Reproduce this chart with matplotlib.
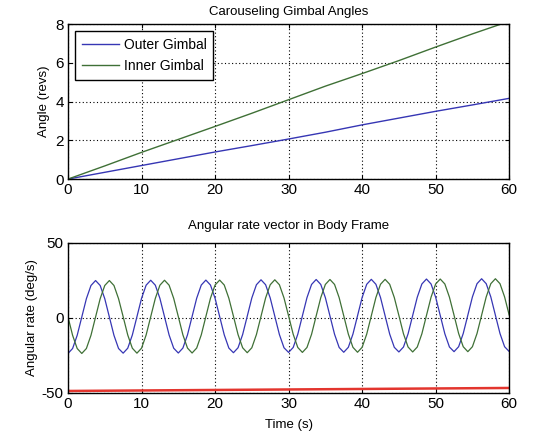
import numpy as np
import matplotlib
matplotlib.use("Agg")
import matplotlib.pyplot as plt

plt.rcParams['font.family'] = ['Liberation Sans', 'DejaVu Sans']
plt.rcParams['axes.unicode_minus'] = False

# ---- top panel data ----
t_top = [0, 5, 10, 15, 20, 25, 30, 35, 40, 45, 50, 55, 60]
outer_gimbal = [0, 0.35, 0.70, 1.05, 1.40, 1.73, 2.07, 2.42, 2.80, 3.15, 3.50, 3.83, 4.17]
inner_gimbal = [0, 0.68, 1.38, 2.05, 2.72, 3.40, 4.10, 4.80, 5.45, 6.12, 6.82, 7.50, 8.15]

rate_x = [
    -23.7, -20.4, -11.6, 0.6, 12.8, 21.6, 24.9, 21.6, 12.8, 0.6, -11.6, -20.4,
    -23.5, -20.2, -11.4, 0.8, 13.0, 21.8, 25.1, 21.8, 13.0, 0.8, -11.4, -20.2,
    -23.4, -20.1, -11.3, 0.9, 13.1, 21.9, 25.2, 21.9, 13.1, 0.9, -11.3, -20.1,
    -23.2, -19.9, -11.1, 1.1, 13.3, 22.1, 25.4, 22.1, 13.3, 1.1, -11.1, -19.9,
    -23.0, -19.7, -10.9, 1.3, 13.5, 22.3, 25.6, 22.3, 13.5, 1.3, -10.9, -19.7,
    -22.9, -19.6, -10.8, 1.4, 13.6, 22.4, 25.7, 22.4, 13.6, 1.4, -10.8, -19.6,
    -22.7, -19.4, -10.6, 1.6, 13.8, 22.6, 25.9, 22.6, 13.8, 1.6, -10.6, -19.4,
    -22.5, -19.2, -10.4, 1.8, 14.0, 22.8, 26.1, 22.8, 14.0, 1.8, -10.4, -19.2,
    -22.4,
]
rate_y = [
    0.6, -11.6, -20.4, -23.7, -20.4, -11.6, 0.6, 12.8, 21.6, 24.9, 21.6, 12.8,
    0.8, -11.4, -20.2, -23.5, -20.2, -11.4, 0.8, 13.0, 21.8, 25.1, 21.8, 13.0,
    0.9, -11.3, -20.1, -23.4, -20.1, -11.3, 0.9, 13.1, 21.9, 25.2, 21.9, 13.1,
    1.1, -11.1, -19.9, -23.2, -19.9, -11.1, 1.1, 13.3, 22.1, 25.4, 22.1, 13.3,
    1.3, -10.9, -19.7, -23.0, -19.7, -10.9, 1.3, 13.5, 22.3, 25.6, 22.3, 13.5,
    1.4, -10.8, -19.6, -22.9, -19.6, -10.8, 1.4, 13.6, 22.4, 25.7, 22.4, 13.6,
    1.6, -10.6, -19.4, -22.7, -19.4, -10.6, 1.6, 13.8, 22.6, 25.9, 22.6, 13.8,
    1.8, -10.4, -19.2, -22.5, -19.2, -10.4, 1.8, 14.0, 22.8, 26.1, 22.8, 14.0,
    1.9,
]
t_rate = np.linspace(0, 60, len(rate_x))
t_z = [0, 60]
rate_z = [-48.7, -46.7]

x_ticks = [0, 10, 20, 30, 40, 50, 60]
top_yticks = [0, 2, 4, 6, 8]
bot_yticks = [-50, 0, 50]

BLUE = '#3636b4'
GREEN = '#3f7036'
RED = '#e3352e'

fig = plt.figure(figsize=(5.44, 4.40), dpi=100)
fig.patch.set_facecolor('white')

ax1 = fig.add_axes([0.125, 0.593, 0.811, 0.352])
ax2 = fig.add_axes([0.125, 0.107, 0.811, 0.341])

grid_kw = dict(color='black', linestyle=(0, (1, 2.2)), linewidth=0.8)

for ax in (ax1, ax2):
    ax.set_xlim(0, 60)
    ax.set_xticks(x_ticks)
    ax.tick_params(direction='in', length=3, width=0.8, labelsize=11,
                   top=True, right=True, pad=3)
    ax.grid(True, **grid_kw)
    for s in ax.spines.values():
        s.set_linewidth(1.0)

ax1.plot(t_top, outer_gimbal, color=BLUE, lw=1.0, label='Outer Gimbal')
ax1.plot(t_top, inner_gimbal, color=GREEN, lw=1.0, label='Inner Gimbal')
ax1.set_ylim(0, 8)
ax1.set_yticks(top_yticks)
ax1.set_title('Carouseling Gimbal Angles', fontsize=9.5, pad=6.5)
ax1.set_ylabel('Angle (revs)', fontsize=9.5, labelpad=4)
leg = ax1.legend(loc='upper left', fontsize=10, fancybox=False, framealpha=1,
                 edgecolor='black', borderaxespad=0.5, handlelength=2.7,
                 handletextpad=0.3, borderpad=0.5, labelspacing=0.5)
leg.get_frame().set_linewidth(1.0)

ax2.plot(t_rate, rate_x, color=BLUE, lw=0.9)
ax2.plot(t_rate, rate_y, color=GREEN, lw=0.9)
ax2.plot(t_z, rate_z, color=RED, lw=1.8)
ax2.set_ylim(-50, 50)
ax2.set_yticks(bot_yticks)
ax2.set_title('Angular rate vector in Body Frame', fontsize=9.5, pad=10)
ax2.set_ylabel('Angular rate (deg/s)', fontsize=9.5, labelpad=3)
ax2.set_xlabel('Time (s)', fontsize=9.5, labelpad=6)

fig.savefig('out.png', dpi=100, facecolor='white')
